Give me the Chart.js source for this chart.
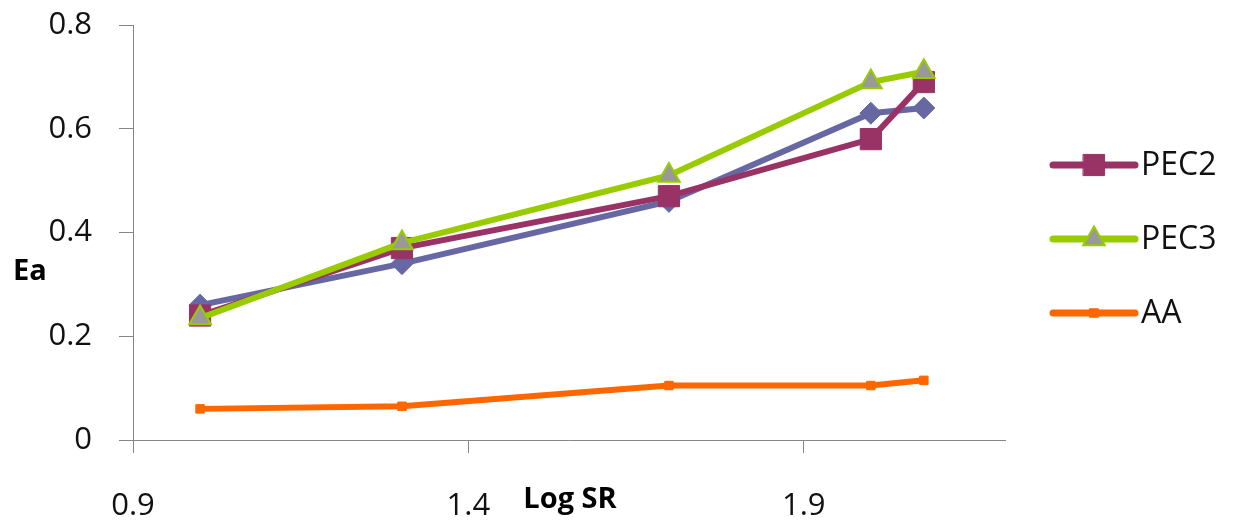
<!DOCTYPE html>
<html>
<head>
<meta charset="utf-8">
<script src="https://cdn.jsdelivr.net/npm/chart.js@4/dist/chart.umd.min.js"></script>
<style>
  html, body { margin: 0; padding: 0; background: #fff; }
  #wrap { width: 1235px; height: 527px; position: relative; }
</style>
</head>
<body>
<div id="wrap"><canvas id="c"></canvas></div>
<script>
// Activation energy against log shear rate
const logSR  = [1.0, 1.301, 1.699, 2.0, 2.079];
const pec1   = [0.26, 0.34, 0.46, 0.63, 0.64];
const pec2   = [0.24, 0.37, 0.47, 0.58, 0.69];
const pec3   = [0.235, 0.38, 0.51, 0.69, 0.71];
const aa     = [0.06, 0.065, 0.105, 0.105, 0.115];
const xTicks = [0.9, 1.4, 1.9];
const yTicks = [0, 0.2, 0.4, 0.6, 0.8];
const legendNames = ['PEC2', 'PEC3', 'AA'];

const pts = ys => ys.map((y, i) => ({ x: logSR[i], y }));

const FONT = '"Open Sans", "Noto Sans", sans-serif';

const datasets = [
  { label: 'PEC1', data: pts(pec1), borderColor: '#6767a3', backgroundColor: '#6767a3',
    pointStyle: 'rectRot', pointRadius: 11, pointBorderWidth: 1, order: 4 },
  { label: 'PEC2', data: pts(pec2), borderColor: '#993366', backgroundColor: '#993366',
    pointStyle: 'rect', pointRadius: 15, pointBorderWidth: 1, order: 3 },
  { label: 'PEC3', data: pts(pec3), borderColor: '#99cc00', backgroundColor: '#999999',
    pointBorderColor: '#99cc00', pointStyle: 'triangle', pointRadius: 12.5, pointBorderWidth: 2, order: 2 },
  { label: 'AA', data: pts(aa), borderColor: '#ff6600', backgroundColor: '#ff6600',
    pointStyle: 'rect', pointRadius: 6, pointBorderWidth: 1, order: 1 }
].map(d => Object.assign({ borderWidth: 6, tension: 0, fill: false, pointHoverRadius: d.pointRadius }, d));

// Axis titles and the series key on the right
const decor = {
  id: 'decor',
  afterDraw(chart) {
    const ctx = chart.ctx;
    ctx.save();
    ctx.fillStyle = '#000';
    ctx.textBaseline = 'middle';
    ctx.textAlign = 'center';
    ctx.font = 'bold 29px ' + FONT;
    ctx.fillText('Ea', 30, 272);
    ctx.fillText('Log SR', 570, 500);

    ctx.textAlign = 'left';
    ctx.font = '32px ' + FONT;
    legendNames.forEach((name, i) => {
      const ds = chart.data.datasets.find(d => d.label === name);
      const y = 165 + i * 74;
      ctx.strokeStyle = ds.borderColor;
      ctx.lineWidth = 7;
      ctx.lineCap = 'round';
      ctx.beginPath();
      ctx.moveTo(1053, y);
      ctx.lineTo(1135, y);
      ctx.stroke();
      ctx.fillStyle = ds.backgroundColor;
      ctx.strokeStyle = ds.pointBorderColor || ds.borderColor;
      ctx.lineWidth = ds.pointBorderWidth;
      Chart.helpers.drawPoint(ctx, {
        pointStyle: ds.pointStyle, radius: ds.pointRadius, rotation: 0,
        borderWidth: ds.pointBorderWidth
      }, 1094, y);
      ctx.fillStyle = '#111';
      ctx.fillText(name, 1141, y + 1);
    });
    ctx.restore();
  }
};

new Chart(document.getElementById('c'), {
  type: 'line',
  data: { datasets },
  plugins: [decor],
  options: {
    responsive: true,
    maintainAspectRatio: false,
    animation: false,
    layout: { padding: { left: 0, right: 230, top: 25, bottom: 0 } },
    plugins: { legend: { display: false }, tooltip: { enabled: false } },
    scales: {
      x: {
        type: 'linear',
        min: 0.9, max: 2.2,
        afterBuildTicks: s => { s.ticks = xTicks.map(v => ({ value: v })); },
        afterFit: s => { s.height = 87; s.paddingLeft = 0; s.paddingRight = 0; },
        grid: { drawOnChartArea: false, tickLength: 13, color: '#868686', lineWidth: 1 },
        border: { color: '#868686', width: 1 },
        ticks: { padding: 35, color: '#111', font: { family: FONT, size: 31 },
                 maxRotation: 0, callback: v => String(v) }
      },
      y: {
        min: 0, max: 0.8,
        afterBuildTicks: s => { s.ticks = yTicks.map(v => ({ value: v })); },
        afterFit: s => { s.width = 133; s.paddingTop = 0; s.paddingBottom = 0; },
        grid: { drawOnChartArea: false, tickLength: 14, color: '#868686', lineWidth: 1 },
        border: { color: '#868686', width: 1 },
        ticks: { padding: 27, color: '#111', font: { family: FONT, size: 31 },
                 callback: v => String(v) }
      }
    }
  }
});
</script>
</body>
</html>
